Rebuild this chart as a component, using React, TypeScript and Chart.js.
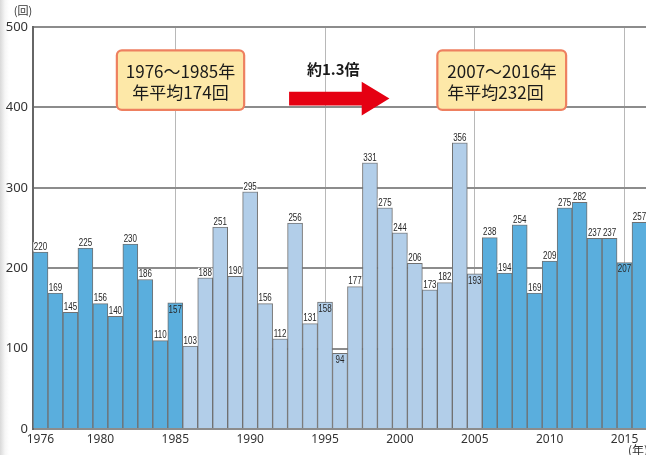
import React, { useEffect, useRef } from "react";
import { Chart, registerables } from "chart.js";

Chart.register(...registerables);

const YEARS = [
  1976, 1977, 1978, 1979, 1980, 1981, 1982, 1983, 1984, 1985,
  1986, 1987, 1988, 1989, 1990, 1991, 1992, 1993, 1994, 1995,
  1996, 1997, 1998, 1999, 2000, 2001, 2002, 2003, 2004, 2005,
  2006, 2007, 2008, 2009, 2010, 2011, 2012, 2013, 2014, 2015, 2016,
];
const COUNTS = [
  220, 169, 145, 225, 156, 140, 230, 186, 110, 157,
  103, 188, 251, 190, 295, 156, 112, 256, 131, 158,
  94, 177, 331, 275, 244, 206, 173, 182, 356, 193,
  238, 194, 254, 169, 209, 275, 282, 237, 237, 207, 257,
];
const X_TICK_YEARS = [1976, 1980, 1985, 1990, 1995, 2000, 2005, 2010, 2015];
const X_GRID_YEARS = [1985, 1995, 2005, 2015];
const INSIDE_LABEL_YEARS = [1985, 1995, 1996, 2005, 2015];
const LIGHT_PERIOD = [1986, 2005];
const Y_MIN = 0;
const Y_MAX = 500;
const Y_STEP = 100;
const Y_UNIT = "(回)";
const X_UNIT = "(年)";
const BOX1_LINES = ["1976～1985年", "年平均174回"];
const BOX2_LINES = ["2007～2016年", "年平均232回"];
const ARROW_TEXT = "約1.3倍";

const DARK_BLUE = "#5aaedd";
const LIGHT_BLUE = "#b2cee9";
const JP_FONT = '"Noto Sans CJK JP", "Noto Sans", sans-serif';
const LABEL_SQUEEZE = 0.8;

const overlayPlugin = {
  id: "overlay",
  afterDatasetsDraw(chart: any) {
    const ctx = chart.ctx as CanvasRenderingContext2D;
    const meta = chart.getDatasetMeta(0);
    ctx.save();
    ctx.font = '10px "Liberation Sans", Arial, sans-serif';
    ctx.textAlign = "center";
    meta.data.forEach((bar: any, i: number) => {
      const label = String(COUNTS[i]);
      const inside = INSIDE_LABEL_YEARS.includes(YEARS[i]);
      const w = ctx.measureText(label).width * LABEL_SQUEEZE;
      if (!inside) {
        ctx.fillStyle = "#fff";
        ctx.fillRect(bar.x - w / 2 - 0.5, bar.y - 10, w + 1, 9.5);
      }
      ctx.save();
      ctx.translate(bar.x, bar.y);
      ctx.scale(LABEL_SQUEEZE, 1);
      ctx.fillStyle = "#262626";
      if (inside) {
        ctx.textBaseline = "top";
        ctx.fillText(label, 0, 2);
      } else {
        ctx.textBaseline = "bottom";
        ctx.fillText(label, 0, 0);
      }
      ctx.restore();
    });
    ctx.restore();
  },
  afterDraw(chart: any) {
    const ctx = chart.ctx as CanvasRenderingContext2D;
    const xs = chart.scales.x;
    const ys = chart.scales.y;
    const px = (v: number) => xs.getPixelForValue(v);
    const py = (v: number) => ys.getPixelForValue(v);
    ctx.save();

    // unit labels
    ctx.fillStyle = "#333";
    ctx.font = "11px " + JP_FONT;
    ctx.textAlign = "center";
    ctx.textBaseline = "middle";
    ctx.fillText(Y_UNIT, 23, 11);
    ctx.font = "12px " + JP_FONT;
    ctx.textAlign = "left";
    ctx.textBaseline = "top";
    ctx.fillText(X_UNIT, 628, 444);

    const drawBox = (x0: number, x1: number, lines: string[], align: "center" | "left") => {
      const l = px(x0), r = px(x1), t = py(471), b = py(397);
      ctx.beginPath();
      ctx.roundRect(l, t, r - l, b - t, 5);
      ctx.fillStyle = "#fde8a8";
      ctx.fill();
      ctx.lineWidth = 2.2;
      ctx.strokeStyle = "#ee8060";
      ctx.stroke();
      ctx.fillStyle = "#1a1a1a";
      ctx.font = "17px " + JP_FONT;
      ctx.textBaseline = "middle";
      ctx.textAlign = align;
      const cx = align === "center" ? (l + r) / 2 : l + 10;
      ctx.fillText(lines[0], cx, py(445));
      ctx.fillText(lines[1], cx, py(418));
    };
    drawBox(5.1, 13.6, BOX1_LINES, "center");
    drawBox(26.5, 35.1, BOX2_LINES, "left");

    // arrow
    const ax0 = px(16.6), axh = px(21.45), ax1 = px(23.3);
    ctx.beginPath();
    ctx.moveTo(ax0, py(419.5));
    ctx.lineTo(axh, py(419.5));
    ctx.lineTo(axh, py(432));
    ctx.lineTo(ax1, py(411));
    ctx.lineTo(axh, py(390));
    ctx.lineTo(axh, py(402.5));
    ctx.lineTo(ax0, py(402.5));
    ctx.closePath();
    ctx.fillStyle = "#e50012";
    ctx.fill();

    ctx.fillStyle = "#1a1a1a";
    ctx.font = "bold 15px " + JP_FONT;
    ctx.textAlign = "center";
    ctx.textBaseline = "middle";
    ctx.fillText(ARROW_TEXT, px(19.55), py(447));
    ctx.restore();
  },
};

export default function App() {
  const ref = useRef<HTMLCanvasElement | null>(null);
  useEffect(() => {
    if (!ref.current) return;
    const chart = new Chart(ref.current, {
      type: "bar",
      data: {
        labels: YEARS.map(String),
        datasets: [
          {
            data: COUNTS,
            backgroundColor: YEARS.map((y) =>
              y >= LIGHT_PERIOD[0] && y <= LIGHT_PERIOD[1] ? LIGHT_BLUE : DARK_BLUE
            ),
            borderColor: "#707070",
            borderWidth: 1,
            barPercentage: 1,
            categoryPercentage: 1,
          },
        ],
      },
      options: {
        responsive: false,
        maintainAspectRatio: false,
        animation: false,
        layout: { padding: { top: 27, left: 0, right: 0, bottom: 0 } },
        plugins: { legend: { display: false }, tooltip: { enabled: false } },
        scales: {
          x: {
            type: "category",
            afterFit: (s: any) => {
              s.height = 26;
            },
            grid: {
              offset: false,
              drawTicks: false,
              lineWidth: 1,
              color: (c: any) =>
                X_GRID_YEARS.includes(YEARS[c.index]) ? "#b8b8b8" : "rgba(0,0,0,0)",
            },
            border: { display: false },
            ticks: {
              autoSkip: false,
              maxRotation: 0,
              padding: 3,
              color: "#333",
              font: { family: "Noto Sans", size: 12 },
              callback: (_v: any, i: number) =>
                X_TICK_YEARS.includes(YEARS[i]) ? String(YEARS[i]) : "",
            },
          },
          y: {
            min: Y_MIN,
            max: Y_MAX,
            afterFit: (s: any) => {
              s.width = 33;
            },
            grid: { color: "#8c8c8c", lineWidth: 2, drawTicks: false },
            border: { display: true, color: "#666", width: 2 },
            ticks: {
              stepSize: Y_STEP,
              padding: 5,
              color: "#333",
              font: { family: "Noto Sans", size: 13 },
            },
          },
        },
      },
      plugins: [overlayPlugin],
    });
    return () => chart.destroy();
  }, []);

  return (
    <div
      style={{
        position: "fixed",
        left: 0,
        top: 0,
        width: 646,
        height: 455,
        overflow: "hidden",
        background: "linear-gradient(to right, #d9d9d9 0px, #f6f6f6 5px, #ffffff 9px)",
      }}
    >
      <canvas ref={ref} width={647} height={455} style={{ display: "block", width: 647, height: 455 }} />
    </div>
  );
}
